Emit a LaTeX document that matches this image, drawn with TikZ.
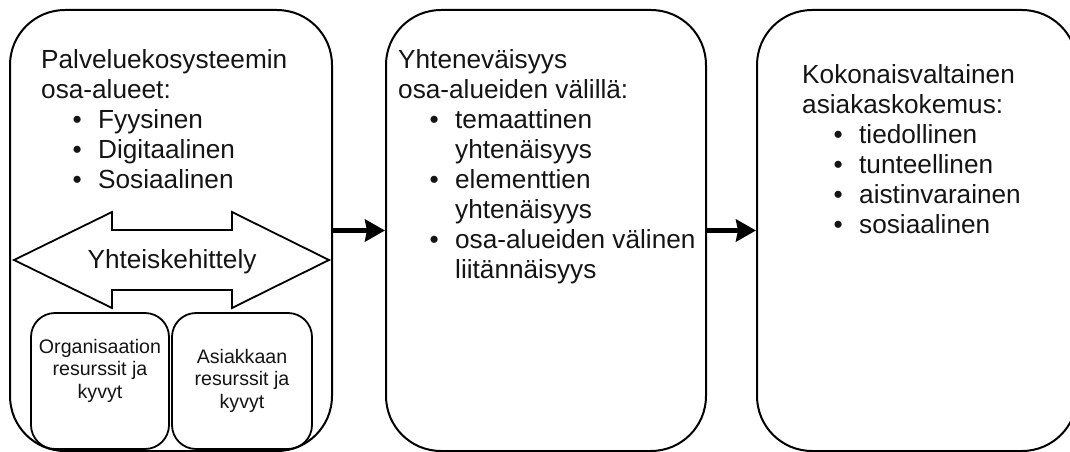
\documentclass[tikz,border=0pt]{standalone}
\usepackage{fontspec}
\setmainfont{Liberation Sans}
\usetikzlibrary{arrows.meta}
% list helpers: bulleted line, continuation line, centred three-line block
\newcommand\bitem[1]{\hbox{\makebox[57pt][l]{\hspace{31.4pt}\textbullet}#1}}
\newcommand\citem[1]{\hbox{\hspace{57pt}#1}}
\newcommand\threelines[3]{\vtop{\halign{\hfil##\hfil\cr#1\cr#2\cr#3\cr}}}
\begin{document}
\begin{tikzpicture}[x=1pt,y=-1pt,
  panel/.style={draw, line width=2pt, rounded corners=55pt, inner sep=0pt},
  subpanel/.style={draw, line width=1.8pt, rounded corners=24pt, inner sep=0pt},
  txt/.style={inner sep=0pt, text=black!92, font=\fontsize{26.2pt}{30pt}\selectfont},
  small/.style={inner sep=0pt, text=black!92, font=\fontsize{19.6pt}{22.5pt}\selectfont},
  flow/.style={line width=4.5pt, -{Stealth[length=20pt,width=22pt,inset=2pt]}}
]
\useasboundingbox (0,0) rectangle (1070,452);

% three main panels
\node[panel, minimum width=322pt, minimum height=441pt] (b1) at (171,230.5) {};
\node[panel, minimum width=320pt, minimum height=441pt] (b2) at (546,230.5) {};
\node[panel, minimum width=320pt, minimum height=441pt] (b3) at (917,230.5) {};

% double-headed arrow for co-development
\draw[line width=1.8pt, fill=white, line join=miter]
  (14,260) -- (112,212) -- (112,230) -- (232,230) -- (232,212) -- (329,260)
  -- (232,308) -- (232,290) -- (112,290) -- (112,308) -- cycle;
\node[txt, anchor=base] (co) at (172,268) {Yhteiskehittely};

% resource boxes
\node[subpanel, minimum width=138pt, minimum height=136pt] (ra) at (100,381) {};
\node[subpanel, minimum width=140pt, minimum height=136pt] (rb) at (242,381) {};
\node[small, anchor=base] (ta) at (100,353) {\threelines{Organisaation}{resurssit ja}{kyvyt}};
\node[small, anchor=base] (tb) at (242,363) {\threelines{Asiakkaan}{resurssit ja}{kyvyt}};

% panel texts
\node[txt, anchor=base west] (t1) at (41,68) {\vtop{%
  \hbox{Palveluekosysteemin}\hbox{osa-alueet:}%
  \bitem{Fyysinen}\bitem{Digitaalinen}\bitem{Sosiaalinen}}};
\node[txt, anchor=base west] (t2) at (398,68) {\vtop{%
  \hbox{Yhteneväisyys}\hbox{osa-alueiden välillä:}%
  \bitem{temaattinen}\citem{yhtenäisyys}%
  \bitem{elementtien}\citem{yhtenäisyys}%
  \bitem{osa-alueiden välinen}\citem{liitännäisyys}}};
\node[txt, anchor=base west] (t3) at (802,83) {\vtop{%
  \hbox{Kokonaisvaltainen}\hbox{asiakaskokemus:}%
  \bitem{tiedollinen}\bitem{tunteellinen}\bitem{aistinvarainen}\bitem{sosiaalinen}}};

% flow between panels
\draw[flow] (b1.east) -- (b2.west);
\draw[flow] (b2.east) -- (b3.west);
\end{tikzpicture}
\end{document}
